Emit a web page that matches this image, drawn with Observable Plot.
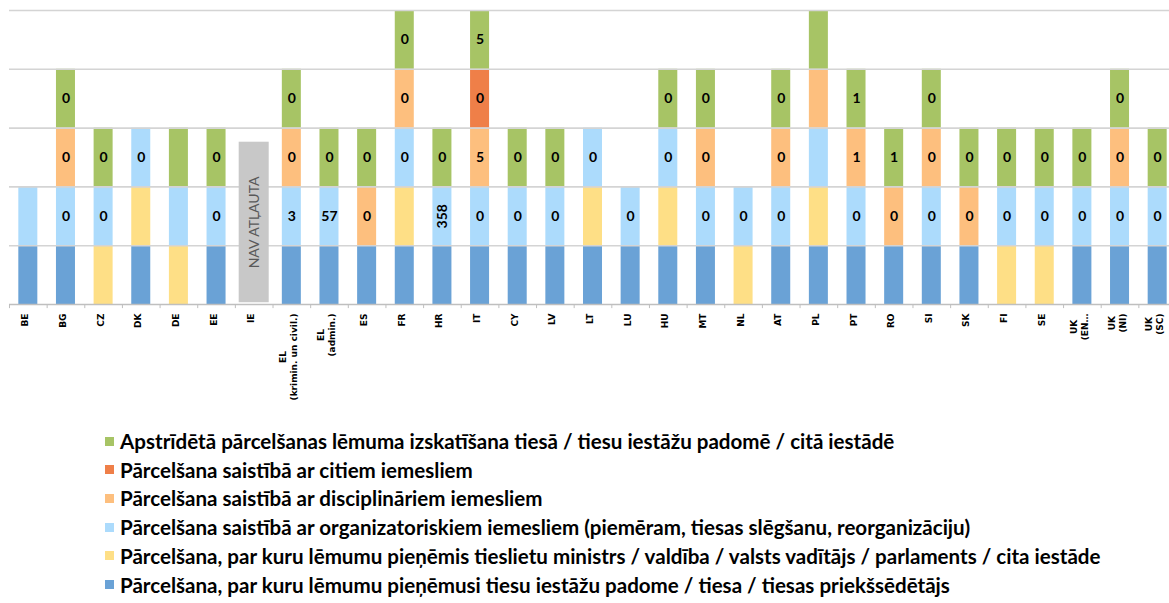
<!DOCTYPE html>
<html><head><meta charset="utf-8">
<script src="https://cdn.jsdelivr.net/npm/d3@7"></script>
<script src="https://cdn.jsdelivr.net/npm/@observablehq/plot@0.6"></script>
<style>
html,body{margin:0;padding:0;background:#fff;overflow:hidden;}
#legend{position:relative;height:183px;font-family:Lato,sans-serif;font-weight:700;color:#000;}
.row{position:absolute;left:105px;height:20px;display:flex;align-items:center;white-space:nowrap;}
.sw{width:9px;height:9px;margin-right:6px;flex:none;}
</style></head><body><div id="chart"></div><div id="legend"></div>
<script>
// Categories (keys) and their tick labels
const countries = ["BE","BG","CZ","DK","DE","EE","IE","EL-K","EL-A","ES","FR","HR","IT","CY","LV","LT","LU","HU","MT","NL","AT","PL","PT","RO","SI","SK","FI","SE","UK-EN","UK-NI","UK-SC"];
const tickLabels = ["BE","BG","CZ","DK","DE","EE","IE","EL\n(krimin. un civil.)","EL\n(admin.)","ES","FR","HR","IT","CY","LV","LT","LU","HU","MT","NL","AT","PL","PT","RO","SI","SK","FI","SE","UK\n(EN…","UK\n(NI)","UK\n(SC)"];

// Series, bottom to top of the stack
const seriesNames = [
  "Pārcelšana, par kuru lēmumu pieņēmusi tiesu iestāžu padome / tiesa / tiesas priekšsēdētājs",
  "Pārcelšana, par kuru lēmumu pieņēmis tieslietu ministrs / valdība / valsts vadītājs / parlaments / cita iestāde",
  "Pārcelšana saistībā ar organizatoriskiem iemesliem (piemēram, tiesas slēgšanu, reorganizāciju)",
  "Pārcelšana saistībā ar disciplināriem iemesliem",
  "Pārcelšana saistībā ar citiem iemesliem",
  "Apstrīdētā pārcelšanas lēmuma izskatīšana tiesā / tiesu iestāžu padomē / citā iestādē"
];
const seriesColors = ["#6aa2d6","#fedf86","#acdbfc","#fdbf7e","#ef7f48","#a7c465"];

// Presence (1 = segment shown) per series, in country order
const sCourt   = [1,1,0,1,0,1,0,1,1,1,1,1,1,1,1,1,1,1,1,0,1,1,1,1,1,1,0,0,1,1,1];
const sMinistr = [0,0,1,1,1,0,0,0,0,0,1,0,0,0,0,1,0,1,0,1,0,1,0,0,0,0,1,1,0,0,0];
const sOrg     = [1,1,1,1,1,1,0,1,1,0,1,1,1,1,1,1,1,1,1,1,1,1,1,0,1,0,1,1,1,1,1];
const sDisc    = [0,1,0,0,0,0,0,1,0,1,1,0,1,0,0,0,0,0,1,0,1,1,1,1,1,1,0,0,0,1,0];
const sOther   = [0,0,0,0,0,0,0,0,0,0,0,0,1,0,0,0,0,0,0,0,0,0,0,0,0,0,0,0,0,0,0];
const sAppeal  = [0,1,1,0,1,1,0,1,1,1,1,1,1,1,1,0,0,1,1,0,1,1,1,1,1,1,1,1,1,1,1];

// Data labels per series (null = none)
const n = null;
const lCourt   = Array(31).fill(null);
const lMinistr = Array(31).fill(null);
const lOrg     = [n,"0","0","0",n,"0",n,"3","57",n,"0","358","0","0","0","0","0","0","0","0","0",n,"0",n,"0",n,"0","0","0","0","0"];
const lDisc    = [n,"0",n,n,n,n,n,"0",n,"0","0",n,"5",n,n,n,n,n,"0",n,"0",n,"1","0","0","0",n,n,n,"0",n];
const lOther   = [n,n,n,n,n,n,n,n,n,n,n,n,"0",n,n,n,n,n,n,n,n,n,n,n,n,n,n,n,n,n,n];
const lAppeal  = [n,"0","0",n,n,"0",n,"0","0","0","0","0","5","0","0",n,n,"0","0",n,"0",n,"1","1","0","0","0","0","0","0","0"];

// "not permitted" marker for IE
const naBox = [{country:"IE", y1:0.03, y2:2.76, text:"NAV ATĻAUTA"}];

const presence = [sCourt,sMinistr,sOrg,sDisc,sOther,sAppeal];
const labels = [lCourt,lMinistr,lOrg,lDisc,lOther,lAppeal];

const rows = [];
seriesNames.forEach((s,si)=>{
  countries.forEach((c,ci)=>{
    if (presence[si][ci]) rows.push({country:c, series:s, value:1, label:labels[si][ci]});
  });
});

const W = 1169, H = 420, mL = 9, mR = -7, mT = 10, mB = 116;
const step = (W - mR - mL) / countries.length;

const cv = document.createElement("canvas").getContext("2d");
function tw(t, font){ cv.font = font; return cv.measureText(t).width; }

const tickFont = "bold 9px 'DejaVu Sans'";
const tickRows = [];
tickLabels.forEach((lab,ci)=>{
  const lines = lab.split("\n");
  const maxLen = d3.max(lines, l=>tw(l,tickFont));
  lines.forEach((l,li)=>tickRows.push({country:countries[ci], line:l, li, nl:lines.length, maxLen}));
});
const tickMarks = tickRows.map(r => Plot.text([r], {
  x:"country", frameAnchor:"bottom", text:"line", rotate:-90, textAnchor:"middle",
  dy: 9 + r.maxLen/2, dx: (r.li - (r.nl-1)/2) * 11,
  fill:"#000", fontSize:9, fontWeight:"bold", fontFamily:"DejaVu Sans"
}));

const chart = Plot.plot({
  width: W, height: H,
  marginLeft: mL, marginRight: mR, marginTop: mT, marginBottom: mB,
  x: {domain: countries, axis: null, paddingInner: 0.495, paddingOuter: 0.2475, round: false},
  y: {domain: [0,5], axis: null},
  color: {domain: seriesNames, range: seriesColors},
  style: {background: "white"},
  marks: [
    Plot.barY(rows, Plot.stackY({x:"country", y:"value", fill:"series", order: seriesNames})),
    Plot.ruleY(d3.range(1,6), {stroke:"#d4d4d4", strokeWidth:1.6}),
    Plot.ruleY([0], {stroke:"#bfbfbf", strokeWidth:1.4}),
    Plot.ruleX(countries, {x: d=>d, y1:0, y2:-0.07, dx:-step/2, stroke:"#bfbfbf"}),
    Plot.barY(naBox, {x:"country", y1:"y1", y2:"y2", fill:"#c8c8c8", insetLeft:-5.5, insetRight:-5.5}),
    Plot.text(naBox, {x:"country", y:d=>(d.y1+d.y2)/2, text:"text", rotate:-90, fill:"#595959", fontSize:14, fontFamily:"Lato"}),
    Plot.text(rows, Plot.stackY({x:"country", y:"value", z:"series", order: seriesNames, text:"label",
      rotate: d => (d.label && d.label.length > 2) ? -90 : 0,
      fill:"#000", fontSize:14, fontWeight:"bold", fontFamily:"Lato"})),
    ...tickMarks
  ]
});
document.getElementById("chart").appendChild(chart);

// Legend (top row = top of stack)
const legend = document.getElementById("legend");
const legendFontFamily = "Lato";
const longest = d3.max(seriesNames, s=>tw(s, "bold 100px " + legendFontFamily));
const fs = 983 / longest * 100;
const order = seriesNames.map((s,i)=>i).reverse();
order.forEach((si,k)=>{
  const r = document.createElement("div");
  r.className = "row";
  r.style.top = (21 + k*28.7 - 10) + "px";
  r.style.fontSize = fs + "px";
  const sw = document.createElement("div");
  sw.className = "sw"; sw.style.background = seriesColors[si];
  const t = document.createElement("span");
  t.textContent = seriesNames[si];
  r.appendChild(sw); r.appendChild(t);
  legend.appendChild(r);
});
</script></body></html>
